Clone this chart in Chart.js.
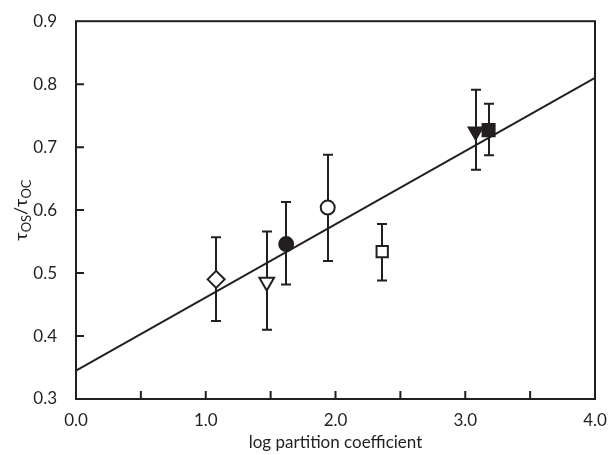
<!DOCTYPE html>
<html>
<head>
<meta charset="utf-8">
<script src="https://cdn.jsdelivr.net/npm/chart.js@4.4.1/dist/chart.umd.min.js"></script>
<style>
  html, body { margin: 0; padding: 0; background: #fff; }
  #wrap { width: 610px; height: 455px; }
</style>
</head>
<body>
<div id="wrap"><canvas id="c" width="610" height="455"></canvas></div>
<script>
// values
const partition = [1.08, 1.47, 1.62, 1.94, 2.36, 3.08, 3.18];
const ratio     = [0.490, 0.486, 0.546, 0.604, 0.534, 0.725, 0.727];
const errHigh   = [0.557, 0.566, 0.613, 0.688, 0.578, 0.791, 0.769];
const errLow    = [0.424, 0.410, 0.482, 0.519, 0.488, 0.664, 0.687];

// fitted line end points
const fitX = [0, 4];
const fitY = [0.345, 0.81];

const xTicks = [0, 0.5, 1, 1.5, 2, 2.5, 3, 3.5, 4];
const yTicks = [0.3, 0.4, 0.5, 0.6, 0.7, 0.8, 0.9];

const ink = '#231f20';
const markerStyle = ['rectRot', 'triangle', 'circle', 'circle', 'rect', 'triangle', 'rect'];
const markerFill  = ['#fff', '#fff', ink, '#fff', '#fff', ink, ink];
const markerRot   = [0, 180, 0, 0, 0, 180, 0];
const markerSize  = [8.5, 8.5, 7, 7, 8, 8, 8.5];

const FONT = 'Lato, "Open Sans", sans-serif';

const frame = {
    id: 'frame',
    beforeDatasetsDraw(chart) {
        const ctx = chart.ctx;
        const xs = chart.scales.x, ys = chart.scales.y;
        // error bars
        ctx.save();
        ctx.strokeStyle = ink;
        ctx.lineWidth = 2;
        partition.forEach((v, i) => {
            const px = Math.round(xs.getPixelForValue(v));
            const top = ys.getPixelForValue(errHigh[i]);
            const bot = ys.getPixelForValue(errLow[i]);
            ctx.beginPath();
            ctx.moveTo(px, top); ctx.lineTo(px, bot);
            ctx.moveTo(px - 5, top); ctx.lineTo(px + 5, top);
            ctx.moveTo(px - 5, bot); ctx.lineTo(px + 5, bot);
            ctx.stroke();
        });
        ctx.restore();
    },
    afterDraw(chart) {
        const ctx = chart.ctx;
        const a = chart.chartArea;
        const xs = chart.scales.x, ys = chart.scales.y;
        ctx.save();
        ctx.strokeStyle = ink;
        ctx.lineWidth = 2;
        ctx.strokeRect(a.left, a.top, a.right - a.left, a.bottom - a.top);
        ctx.beginPath();
        xTicks.slice(1, -1).forEach(v => {
            const px = xs.getPixelForValue(v);
            ctx.moveTo(px, a.bottom); ctx.lineTo(px, a.bottom - 8);
        });
        yTicks.slice(1, -1).forEach(v => {
            const py = ys.getPixelForValue(v);
            ctx.moveTo(a.left, py); ctx.lineTo(a.left + 8, py);
        });
        ctx.stroke();

        // axis titles
        ctx.fillStyle = ink;
        ctx.font = '17px ' + FONT;
        ctx.textAlign = 'center';
        ctx.textBaseline = 'alphabetic';
        ctx.fillText('log partition coefficient', (a.left + a.right) / 2, 448);

        // y title with subscripts
        ctx.translate(27, (a.top + a.bottom) / 2);
        ctx.rotate(-Math.PI / 2);
        const parts = [['τ', 18, 0], ['OS', 13, 4], ['/τ', 18, 0], ['OC', 13, 4]];
        let total = 0;
        parts.forEach(p => { ctx.font = p[1] + 'px ' + FONT; total += ctx.measureText(p[0]).width; });
        let x = -total / 2;
        ctx.textAlign = 'left';
        parts.forEach(p => {
            ctx.font = p[1] + 'px ' + FONT;
            ctx.fillText(p[0], x, p[2]);
            x += ctx.measureText(p[0]).width;
        });
        ctx.restore();
    }
};

new Chart(document.getElementById('c'), {
    type: 'scatter',
    data: {
        datasets: [
            {
                label: 'fit',
                type: 'line',
                data: fitX.map((x, i) => ({ x: x, y: fitY[i] })),
                borderColor: ink,
                borderWidth: 2,
                pointRadius: 0,
                fill: false
            },
            {
                label: 'samples',
                data: partition.map((x, i) => ({ x: x, y: ratio[i] })),
                pointStyle: markerStyle,
                backgroundColor: markerFill,
                borderColor: ink,
                borderWidth: 2,
                rotation: markerRot,
                pointRadius: markerSize,
                pointHoverRadius: markerSize
            }
        ]
    },
    options: {
        responsive: false,
        animation: false,
        events: [],
        layout: { padding: { top: 18, right: 15, left: 0, bottom: 0 } },
        plugins: { legend: { display: false }, tooltip: { enabled: false } },
        scales: {
            x: {
                type: 'linear', min: 0, max: 4,
                afterBuildTicks: s => { s.ticks = xTicks.map(v => ({ value: v })); },
                afterFit: s => { s.height = 56; },
                grid: { display: false },
                border: { display: false },
                ticks: {
                    color: ink, padding: 3, maxRotation: 0, autoSkip: false,
                    font: { family: FONT, size: 17 },
                    callback: v => (v % 1 === 0 ? v.toFixed(1) : '')
                }
            },
            y: {
                type: 'linear', min: 0.3, max: 0.9,
                afterBuildTicks: s => { s.ticks = yTicks.map(v => ({ value: v })); },
                afterFit: s => { s.width = 76; },
                grid: { display: false },
                border: { display: false },
                ticks: {
                    color: ink, padding: 11,
                    font: { family: FONT, size: 17 },
                    callback: v => v.toFixed(1)
                }
            }
        }
    },
    plugins: [frame]
});
</script>
</body>
</html>
